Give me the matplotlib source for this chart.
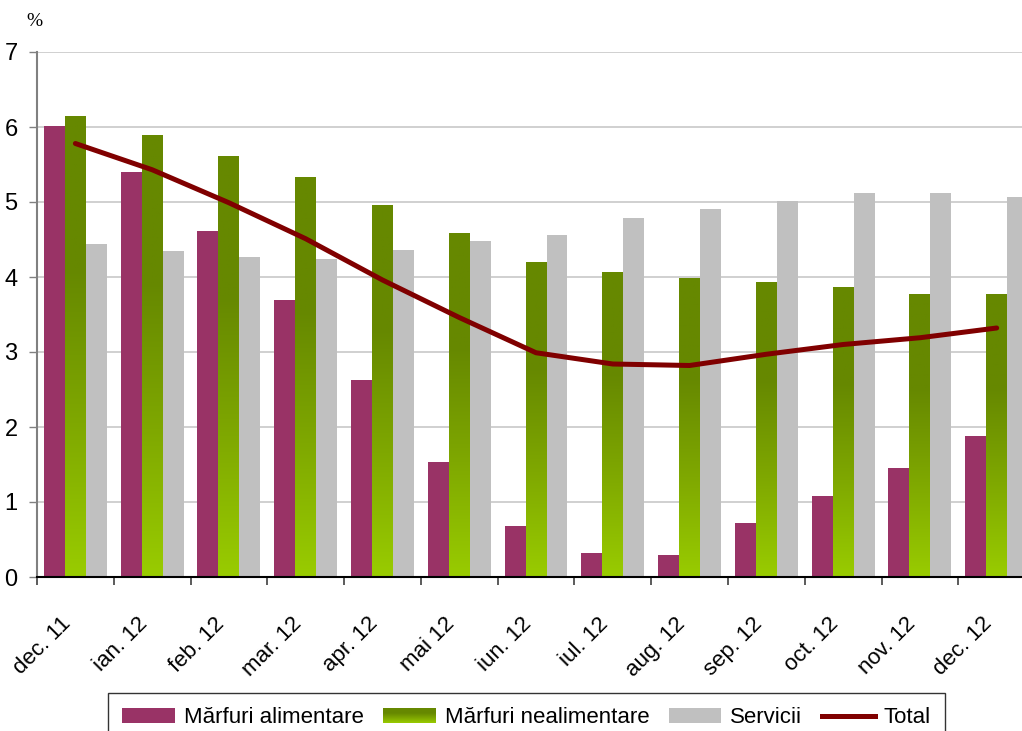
import numpy as np
import matplotlib
matplotlib.use('Agg')
import matplotlib.pyplot as plt
from matplotlib.colors import LinearSegmentedColormap
from matplotlib.legend_handler import HandlerBase
from matplotlib.image import BboxImage
from matplotlib.transforms import Bbox, TransformedBbox, ScaledTranslation
from matplotlib.patches import Patch
from matplotlib.lines import Line2D

luni = ['dec. 11', 'ian. 12', 'feb. 12', 'mar. 12', 'apr. 12', 'mai 12', 'iun. 12',
        'iul. 12', 'aug. 12', 'sep. 12', 'oct. 12', 'nov. 12', 'dec. 12']
alimentare = [6.02, 5.40, 4.61, 3.70, 2.63, 1.54, 0.68, 0.32, 0.30, 0.72, 1.08, 1.46, 1.88]
nealimentare = [6.15, 5.89, 5.62, 5.33, 4.96, 4.59, 4.20, 4.07, 3.99, 3.94, 3.87, 3.78, 3.78]
servicii = [4.44, 4.35, 4.27, 4.24, 4.36, 4.48, 4.56, 4.79, 4.91, 5.02, 5.12, 5.12, 5.07]
total = [5.78, 5.43, 4.99, 4.51, 3.96, 3.46, 2.99, 2.84, 2.82, 2.97, 3.10, 3.19, 3.32]

verde = LinearSegmentedColormap.from_list('verde', ['#99CC00', '#7FA800', '#668800', '#668800'])
grad = np.linspace(0, 1, 256).reshape(-1, 1)

plt.rcParams['font.family'] = ['Liberation Sans', 'DejaVu Sans']

fig = plt.figure(figsize=(10.22, 7.31), dpi=100)
ax = fig.add_axes([37/1022, 154/731, 985/1022, 525/731])

x = np.arange(len(luni))
w = 0.273
ax.bar(x - w, alimentare, w, color='#993366', zorder=2)
bare = ax.bar(x, nealimentare, w, color='none', zorder=2)
for b in bare:
    x0, x1 = b.get_x(), b.get_x() + b.get_width()
    im = ax.imshow(grad, extent=[x0, x1, 0, b.get_height()], origin='lower',
                   aspect='auto', cmap=verde, zorder=2)
    im.set_clip_path(b)
ax.bar(x + w, servicii, w, color='#C0C0C0', zorder=2)
ax.plot(x, total, color='#800000', lw=3.6, solid_capstyle='round', zorder=3)

ax.set_yticks(range(8))
ax.grid(axis='y', color='#C8C8C8', lw=1.2, zorder=0)
ax.set_axisbelow(True)
ax.tick_params(axis='y', labelsize=17, length=6, width=1, color='#808080', pad=8)

ax.set_xticks(x)
ax.set_xticklabels(luni, rotation=45, ha='right', rotation_mode='anchor', fontsize=16)
ax.set_xticks(np.arange(-0.5, 12, 1), minor=True)
ax.tick_params(axis='x', which='major', length=0, pad=21)
ax.tick_params(axis='x', which='minor', length=6, width=1.2, color='#404040')
ax.set_xlim(-0.5, 12.33)
ax.set_ylim(0, 7)
# muta etichetele putin la stanga si in jos
dep = ScaledTranslation(-0.15, -0.07, fig.dpi_scale_trans)
for lbl in ax.get_xticklabels():
    lbl.set_transform(lbl.get_transform() + dep)

for s in ['top', 'right']:
    ax.spines[s].set_visible(False)
ax.spines['left'].set_color('#808080')
ax.spines['left'].set_linewidth(1.5)
ax.spines['bottom'].set_color('black')
ax.spines['bottom'].set_linewidth(1.5)

fig.text(26/1022, 1 - 22/731, '%', fontsize=14, family='Liberation Serif', va='center')


class HandlerGrad(HandlerBase):
    def create_artists(self, legend, orig_handle, xdescent, ydescent, width, height, fontsize, trans):
        bb = TransformedBbox(Bbox.from_bounds(-xdescent, -ydescent, width, height), trans)
        img = BboxImage(bb, cmap=verde, origin='lower')
        img.set_data(grad)
        return [img]


h_grad = Patch(facecolor='#7FA800')
handles = [Patch(facecolor='#993366'), h_grad, Patch(facecolor='#C0C0C0'),
           Line2D([], [], color='#800000', lw=3.6)]
labels = ['Mărfuri alimentare', 'Mărfuri nealimentare', 'Servicii', 'Total']
leg = fig.legend(handles, labels, loc='upper center', bbox_to_anchor=(526.5/1022, 1 - 693/731),
                 ncol=4, frameon=True, fancybox=False, edgecolor='black', handlelength=2.35,
                 handleheight=0.63, handletextpad=0.4, columnspacing=0.9, borderpad=0.65,
                 borderaxespad=0, prop={'size': 16},
                 handler_map={h_grad: HandlerGrad()})
leg.get_frame().set_linewidth(1.0)

fig.savefig('out.png', dpi=100)
